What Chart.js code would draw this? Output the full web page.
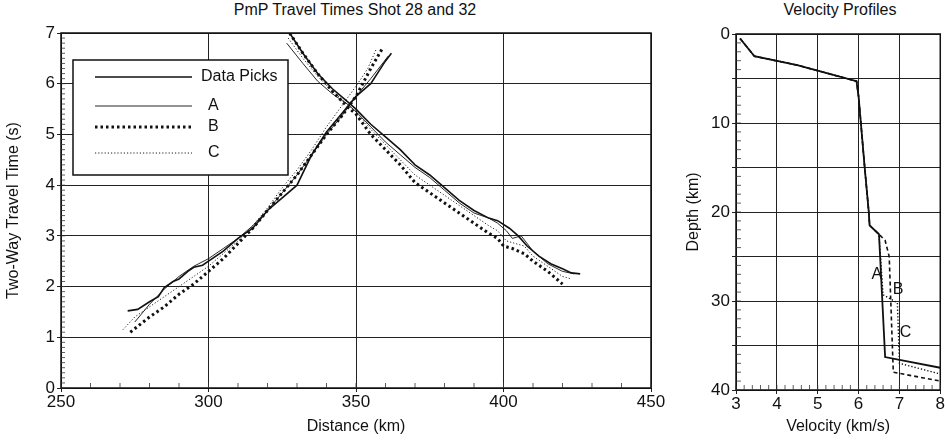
<!DOCTYPE html>
<html><head><meta charset="utf-8">
<script src="https://cdn.jsdelivr.net/npm/chart.js@4"></script>
<style>
body{margin:0;background:#fff;width:945px;height:440px;position:relative;overflow:hidden;font-family:"Liberation Sans",Arial,sans-serif}
canvas{position:absolute;top:0}
.t{position:absolute;top:1px;font-size:16px;color:#111;white-space:nowrap}
</style></head><body>
<div class="t" style="left:355px;transform:translateX(-50%)">PmP Travel Times Shot 28 and 32</div>
<div class="t" style="left:840px;transform:translateX(-50%)">Velocity Profiles</div>
<div style="position:absolute;left:0;top:0;width:670px;height:440px"><canvas id="c1"></canvas></div>
<div style="position:absolute;left:680px;top:0;width:265px;height:440px"><canvas id="c2"></canvas></div>
<script>
// Travel times (distance km, time s)
const pick28 = [[272.6,1.52],[276,1.55],[280,1.7],[283,1.8],[285,1.98],[288,2.1],[290,2.15],[293,2.3],[295,2.38],[298,2.42],[300,2.5],[305,2.7],[310,2.95],[315,3.15],[320,3.5],[325,3.75],[330,4.0],[335,4.6],[340,5.05],[345,5.4],[350,5.75],[355,6.0],[360,6.45],[362,6.6]];
const a28 = [[275,1.3],[280,1.65],[285,1.95],[290,2.2],[295,2.4],[300,2.55],[305,2.75],[310,2.95],[315,3.2],[320,3.5],[325,3.85],[330,4.2],[335,4.6],[340,5.0],[345,5.35],[350,5.75],[355,6.1],[361,6.55]];
const b28 = [[273.5,1.1],[280,1.4],[285,1.6],[290,1.85],[295,2.05],[300,2.3],[305,2.55],[310,2.85],[315,3.15],[320,3.5],[325,3.85],[330,4.2],[335,4.6],[340,5.0],[345,5.35],[350,5.75],[355,6.3],[359,6.7]];
const c28 = [[271,1.15],[275,1.4],[280,1.6],[285,1.8],[290,2.0],[295,2.2],[300,2.4],[305,2.65],[310,2.9],[315,3.2],[320,3.55],[325,3.95],[330,4.3],[335,4.7],[340,5.15],[345,5.55],[350,5.95],[354,6.3],[357,6.7]];
const pick32 = [[327.5,7.0],[332,6.6],[337,6.2],[342,5.9],[347,5.65],[350,5.5],[355,5.2],[360,4.95],[365,4.7],[370,4.4],[375,4.2],[380,3.95],[385,3.7],[390,3.5],[395,3.35],[398,3.3],[402,3.15],[405,3.0],[408,2.8],[412,2.6],[416,2.45],[420,2.35],[423,2.27],[426,2.25]];
const a32 = [[326.5,6.8],[332,6.4],[337,6.05],[342,5.8],[347,5.6],[350,5.45],[355,5.15],[360,4.85],[365,4.6],[370,4.35],[375,4.15],[380,3.9],[385,3.65],[390,3.45],[395,3.35],[398,3.25],[401,3.1],[403,2.95],[406,3.0],[410,2.7],[415,2.45],[420,2.3],[424,2.25]];
const b32 = [[327.5,7.0],[332,6.6],[337,6.2],[342,5.85],[347,5.55],[350,5.4],[355,5.0],[360,4.7],[365,4.4],[370,4.05],[375,3.85],[380,3.65],[385,3.45],[390,3.25],[395,3.05],[398,2.95],[400,2.8],[403,2.75],[407,2.65],[410,2.5],[415,2.3],[420,2.05]];
const c32 = [[327,6.9],[332,6.5],[337,6.15],[342,5.85],[347,5.6],[350,5.45],[355,5.1],[360,4.8],[365,4.5],[370,4.2],[375,4.0],[380,3.8],[385,3.6],[390,3.4],[395,3.2],[398,3.1],[401,2.9],[404,2.85],[407,2.8],[410,2.6],[415,2.4],[420,2.2],[423,2.15]];
// Velocity profiles (velocity km/s, depth km)
const velA = [[3.1,0.5],[3.45,2.5],[4.5,3.5],[5.95,5.3],[6.0,7],[6.15,15],[6.25,20],[6.27,21.5],[6.5,22.5],[6.65,36.3],[8,37.5]];
const velB = [[3.1,0.5],[3.45,2.5],[4.5,3.5],[5.95,5.3],[6.0,7],[6.15,15],[6.25,20],[6.27,21.5],[6.5,22.5],[6.65,23.2],[6.75,25],[6.85,38],[8,39]];
const velC = [[3.1,0.5],[3.45,2.5],[4.5,3.5],[5.95,5.3],[6.0,7],[6.15,15],[6.25,20],[6.27,21.5],[6.5,22.5],[6.6,29.3],[6.95,30.2],[7.0,37],[8,38.2]];
const profLabels = [['A',6.45,27],['B',6.97,28.7],['C',7.15,33.5]];
const legendNames = ['Data Picks','A','B','C'];

const F = '"Liberation Sans",Arial,sans-serif';
Chart.defaults.font.family = F;
Chart.defaults.color = '#111';
const toXY = a => a.map(p=>({x:p[0],y:p[1]}));
const sty = {
  pick:{borderColor:'#111',borderWidth:1.6,borderDash:[]},
  A:{borderColor:'#111',borderWidth:0.9,borderDash:[]},
  B:{borderColor:'#111',borderWidth:3,borderDash:[2.5,3]},
  C:{borderColor:'#222',borderWidth:1,borderDash:[1.2,2]}
};
function ds(d,s,lab){return Object.assign({label:lab,data:toXY(d),pointRadius:0,fill:false,tension:0,showLine:true},s);}

function minorTicks(axis,step,len){return {id:'mt'+axis+step,afterDraw(c){
  const ctx=c.ctx,ca=c.chartArea,s=c.scales[axis];ctx.save();ctx.strokeStyle='#333';ctx.lineWidth=0.8;ctx.beginPath();
  for(let v=s.min;v<=s.max+1e-9;v+=step){const p=s.getPixelForValue(v);
    if(axis==='x'){ctx.moveTo(p,ca.bottom);ctx.lineTo(p,ca.bottom-len);}else{ctx.moveTo(ca.left,p);ctx.lineTo(ca.left+len,p);}}
  ctx.stroke();ctx.restore();}};}
const frame={id:'frame',afterDraw(c){const ctx=c.ctx,ca=c.chartArea;ctx.save();ctx.strokeStyle='#111';ctx.lineWidth=1.5;ctx.strokeRect(ca.left,ca.top,ca.right-ca.left,ca.bottom-ca.top);ctx.restore();}};
const legendBox={id:'lb',afterDraw(c){
  const ctx=c.ctx;ctx.save();ctx.fillStyle='#fff';ctx.fillRect(73,60,215,115);ctx.strokeStyle='#111';ctx.lineWidth=1.5;ctx.strokeRect(73,60,215,115);
  const keys=['pick','A','B','C'];const ys=[77,106,127,153];
  keys.forEach((k,i)=>{const s=sty[k];ctx.strokeStyle=s.borderColor;ctx.lineWidth=s.borderWidth;ctx.setLineDash(s.borderDash);
    ctx.beginPath();ctx.moveTo(95,ys[i]);ctx.lineTo(192,ys[i]);ctx.stroke();ctx.setLineDash([]);
    ctx.fillStyle='#111';ctx.font='16px '+F;ctx.textBaseline='middle';ctx.fillText(legendNames[i],i===0?201:208,ys[i]);});
  ctx.restore();}};

new Chart(document.getElementById('c1'),{type:'scatter',
  data:{datasets:[ds(pick28,sty.pick,'p28'),ds(a28,sty.A,'a28'),ds(b28,sty.B,'b28'),ds(c28,sty.C,'c28'),
                  ds(pick32,sty.pick,'p32'),ds(a32,sty.A,'a32'),ds(b32,sty.B,'b32'),ds(c32,sty.C,'c32')]},
  options:{animation:false,responsive:true,maintainAspectRatio:false,
    layout:{padding:{left:0,right:19,top:33,bottom:0}},
    plugins:{legend:{display:false},tooltip:{enabled:false}},
    scales:{
      x:{type:'linear',min:250,max:450,afterFit:s=>{s.height=52;},
        ticks:{stepSize:50,font:{size:17},padding:0,maxRotation:0},
        grid:{color:'#222',lineWidth:1,drawTicks:true,tickLength:4},border:{color:'#111'},
        title:{display:true,text:'Distance (km)',font:{size:16},padding:{top:-2}}},
      y:{type:'linear',min:0,max:7,afterFit:s=>{s.width=61;},
        ticks:{stepSize:1,font:{size:17},padding:2},
        grid:{color:'#222',lineWidth:1,tickLength:4},border:{color:'#111'},
        title:{display:true,text:'Two-Way Travel Time (s)',font:{size:16},padding:{bottom:4}}}}},
  plugins:[frame,minorTicks('x',10,5),minorTicks('y',0.1,4),legendBox]});

const labPlug={id:'lab',afterDraw(c){const ctx=c.ctx;ctx.save();ctx.fillStyle='#111';ctx.font='16px '+F;ctx.textAlign='center';ctx.textBaseline='middle';
  profLabels.forEach(l=>ctx.fillText(l[0],c.scales.x.getPixelForValue(l[1]),c.scales.y.getPixelForValue(l[2])));ctx.restore();}};
new Chart(document.getElementById('c2'),{type:'scatter',
  data:{datasets:[ds(velB,{borderColor:'#111',borderWidth:1.6,borderDash:[4,3]},'B'),ds(velC,{borderColor:'#111',borderWidth:1.4,borderDash:[1.3,2]},'C'),ds(velA,{borderColor:'#111',borderWidth:1.8,borderDash:[]},'A')]},
  options:{animation:false,responsive:true,maintainAspectRatio:false,
    layout:{padding:{left:0,right:2,top:34,bottom:0}},
    plugins:{legend:{display:false},tooltip:{enabled:false}},
    scales:{
      x:{type:'linear',min:3,max:8,afterFit:s=>{s.height=50;},
        ticks:{stepSize:1,font:{size:17},padding:0,maxRotation:0},
        grid:{color:'#222',lineWidth:1,tickLength:4},border:{color:'#111'},
        title:{display:true,text:'Velocity (km/s)',font:{size:16},padding:{top:-3}}},
      y:{type:'linear',reverse:true,min:0,max:40,afterFit:s=>{s.width=56;},
        ticks:{stepSize:10,font:{size:17},padding:2},
        grid:{color:'#222',lineWidth:1,tickLength:4},border:{color:'#111'},
        afterBuildTicks:s=>{s.ticks=[0,5,10,15,20,25,30,35,40].map(v=>({value:v}));},
        afterTickToLabelConversion:s=>{s.ticks.forEach(t=>{t.label=(t.value%10===0)?String(t.value):'';});},
        title:{display:true,text:'Depth (km)',font:{size:16},padding:{bottom:0}}}}},
  plugins:[frame,minorTicks('x',0.2,5),minorTicks('y',1,5),labPlug]});
</script></body></html>
